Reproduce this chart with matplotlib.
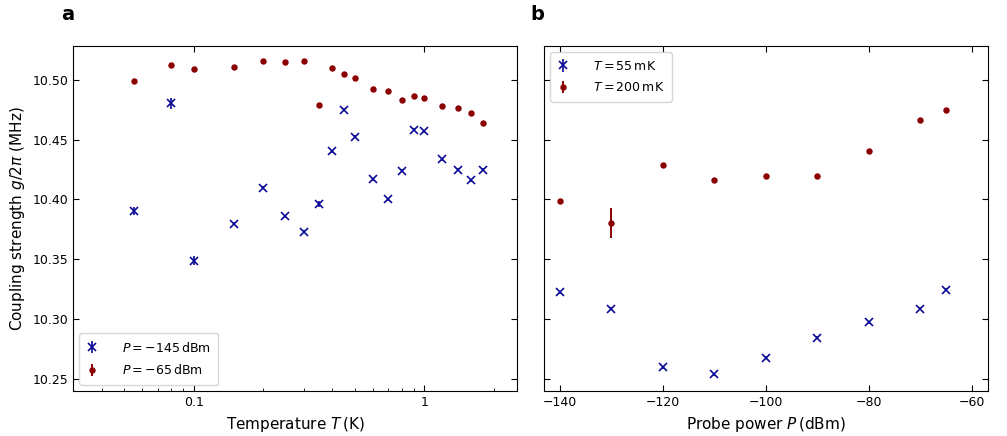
import matplotlib
matplotlib.use("Agg")
import matplotlib.pyplot as plt
import numpy as np

# panel a: coupling vs temperature
temps = [0.055, 0.08, 0.1, 0.15, 0.2, 0.25, 0.3, 0.35, 0.4, 0.45,
         0.5, 0.6, 0.7, 0.8, 0.9, 1.0, 1.2, 1.4, 1.6, 1.8]
g_lowP = [10.3902, 10.4805, 10.3489, 10.3797, 10.4097, 10.3860, 10.3729, 10.3966, 10.4405, 10.4751,
          10.4525, 10.4168, 10.4000, 10.4240, 10.4583, 10.4570, 10.4338, 10.4248, 10.4160, 10.4248]
g_lowP_err = [0.0035, 0.0045, 0.0038, 0.0012, 0.0012, 0.0012, 0.0012, 0.0025, 0.0012, 0.0012,
              0.0012, 0.0012, 0.0012, 0.0012, 0.0012, 0.0012, 0.0012, 0.0012, 0.0012, 0.0012]
g_highP = [10.4990, 10.5126, 10.5095, 10.5110, 10.5157, 10.5150, 10.5157, 10.4793, 10.5098, 10.5048,
           10.5020, 10.4922, 10.4910, 10.4835, 10.4863, 10.4852, 10.4782, 10.4763, 10.4726, 10.4642]
g_highP_err = [0.0008] * len(temps)

# panel b: coupling vs probe power
powers = [-140, -130, -120, -110, -100, -90, -80, -70, -65]
g_55mK = [10.3223, 10.3086, 10.2597, 10.2536, 10.2676, 10.2844, 10.2972, 10.3086, 10.3243]
g_55mK_err = [0.0012] * len(powers)
g_200mK = [10.3986, 10.3804, 10.4288, 10.4162, 10.4198, 10.4195, 10.4402, 10.4667, 10.4746]
g_200mK_err = [0.0008, 0.0126, 0.0008, 0.0008, 0.0008, 0.0008, 0.0008, 0.0008, 0.0008]

blue = "#0a0a96"
red = "#8b0000"

fig = plt.figure(figsize=(10.07, 4.36), dpi=100)
ax1 = fig.add_axes([0.0725, 0.103, 0.441, 0.7915])
ax2 = fig.add_axes([0.540, 0.103, 0.441, 0.7915], sharey=ax1)

blue_kw = dict(fmt="x", color=blue, ms=6, mew=1.2, elinewidth=1.2, capsize=0)
red_kw = dict(fmt="o", color=red, ms=3.6, elinewidth=1.4, capsize=0)

ax1.errorbar(temps, g_lowP, yerr=g_lowP_err, label=r"$P=-145\,\mathrm{dBm}$", **blue_kw)
ax1.errorbar(temps, g_highP, yerr=g_highP_err, label=r"$P=-65\,\mathrm{dBm}$", **red_kw)
ax1.set_xscale("log")
ax1.set_xlim(0.03, 2.53)
ax1.set_xticks([0.1, 1])
ax1.set_xticklabels(["0.1", "1"])
ax1.set_ylim(10.2396, 10.5285)
ax1.set_yticks([10.25, 10.30, 10.35, 10.40, 10.45, 10.50])
ax1.set_xlabel(r"Temperature $T\,$(K)", fontsize=11)
ax1.set_ylabel(r"Coupling strength $g/2\pi$ (MHz)", fontsize=11)
ax1.legend(loc="lower left", fontsize=9, handlelength=0.8, handletextpad=2.0,
           borderpad=0.6, labelspacing=0.7)

ax2.errorbar(powers, g_55mK, yerr=g_55mK_err, label=r"$T=55\,\mathrm{mK}$", **blue_kw)
ax2.errorbar(powers, g_200mK, yerr=g_200mK_err, label=r"$T=200\,\mathrm{mK}$", **red_kw)
ax2.set_xlim(-143.05, -56.9)
ax2.set_xticks([-140, -120, -100, -80, -60])
ax2.set_xlabel(r"Probe power $P\,$(dBm)", fontsize=11)
ax2.tick_params(axis="y", labelleft=False)
ax2.legend(loc="upper left", fontsize=9, handlelength=0.8, handletextpad=2.0,
           borderpad=0.6, labelspacing=0.7)

for ax in (ax1, ax2):
    ax.tick_params(which="both", direction="in", top=True, right=True, labelsize=9)
    ax.tick_params(which="major", length=4)
    ax.tick_params(which="minor", length=2.5, top=False)

fig.text(0.0675, 0.966, "a", fontsize=14, fontweight="bold", ha="center", va="center")
fig.text(0.5335, 0.966, "b", fontsize=14, fontweight="bold", ha="center", va="center")

fig.savefig("out.png", dpi=100)
